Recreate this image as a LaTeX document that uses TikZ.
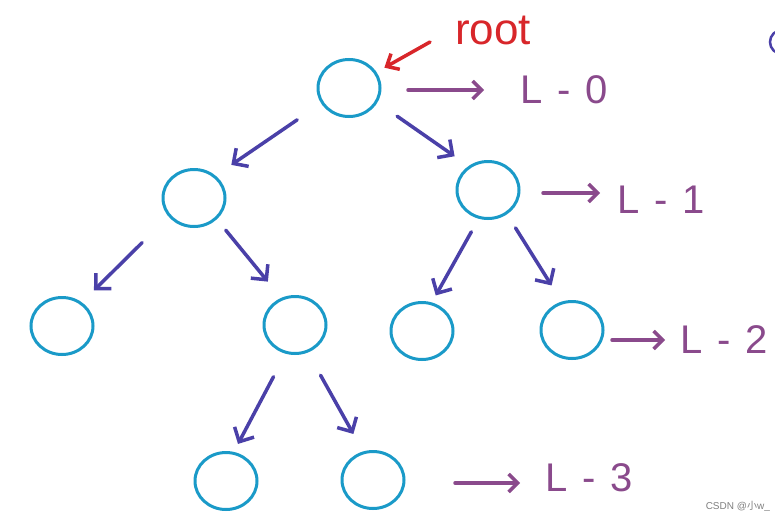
\documentclass[tikz,border=0pt]{standalone}
\usepackage{fontspec}
\setmainfont{Liberation Sans}
\newfontfamily\cjk{Noto Sans CJK SC}
\usetikzlibrary{arrows.meta,shapes.geometric}
\definecolor{circ}{HTML}{1A9AC8}
\definecolor{edgec}{HTML}{4A40A8}
\definecolor{lvl}{HTML}{8A4A8C}
\definecolor{rootc}{HTML}{D8262A}
\tikzset{
  tnode/.style={draw=circ, line width=3pt, ellipse, minimum width=62pt, minimum height=57pt, inner sep=0pt},
  tedge/.style={draw=edgec, line width=3.5pt, line cap=round, -{Straight Barb[length=11pt,width=22pt,line width=3.5pt]}},
  lvarrow/.style={draw=lvl, line width=3.5pt, line cap=round, -{Straight Barb[length=9pt,width=18pt,line width=3.5pt]}},
  lvtext/.style={text=lvl, font=\fontsize{40}{40}\selectfont, anchor=west, inner sep=0pt},
}
\newcommand{\lvsp}{\hspace{15pt}}
\begin{document}
\begin{tikzpicture}[x=1pt,y=-1pt]
\useasboundingbox[fill=white] (0,0) rectangle (775,522);
% tree nodes
\node[tnode] (r) at (349,88) {};
\node[tnode] (a) at (194,198) {};
\node[tnode] (b) at (488,190) {};
\node[tnode] (c) at (62,326) {};
\node[tnode] (d) at (295,325) {};
\node[tnode] (e) at (422,331) {};
\node[tnode] (f) at (572,330) {};
\node[tnode] (g) at (226,481) {};
\node[tnode] (h) at (373,480) {};
% edges
\draw[tedge, shorten <=29pt, shorten >=19pt] (r.209) -- (a.46);
\draw[tedge, shorten <=24pt, shorten >=17pt] (r.333) -- (b.129);
\draw[tedge, shorten <=37pt, shorten >=17pt] (a.216) -- (c.50);
\draw[tedge, shorten <=14pt, shorten >=21pt] (a.317) -- (d.117);
\draw[tedge, shorten <=15pt, shorten >=8pt] (b.252) -- (e.71);
\draw[tedge, shorten <=16pt, shorten >=19pt] (b.308) -- (f.110);
\draw[tedge, shorten <=26pt, shorten >=9pt] (d.252) -- (g.75);
\draw[tedge, shorten <=26pt, shorten >=20pt] (d.295) -- (h.109);
% root label
\node[text=rootc, font=\fontsize{44}{44}\selectfont, inner sep=0pt] (rl) at (493,30) {root};
\coordinate (rs) at (430,42);
\draw[draw=rootc, line width=3.5pt, line cap=round, -{Straight Barb[length=10pt,width=18pt,line width=3.5pt]}, shorten >=9pt] (rs) -- (r.30);
% level labels
\node[lvtext] (l0) at (520,90) {L\lvsp-\lvsp0};
\node[lvtext] (l1) at (617,200) {L\lvsp-\lvsp1};
\node[lvtext] (l2) at (680,340) {L\lvsp-\lvsp2};
\node[lvtext] (l3) at (545,478) {L\lvsp-\lvsp3};
\coordinate (s0) at (408,90);
\coordinate (s1) at (543,193);
\coordinate (s2) at (612,340);
\coordinate (s3) at (455,483);
\draw[lvarrow, shorten >=36pt] (s0) -- (l0.west |- s0);
\draw[lvarrow, shorten >=17pt] (s1) -- (l1.west |- s1);
\draw[lvarrow, shorten >=15pt] (s2) -- (l2.west |- s2);
\draw[lvarrow, shorten >=25pt] (s3) -- (l3.west |- s3);
% partial shape at right edge
\draw[draw=edgec, line width=2.5pt] (782,42) circle[radius=12pt];
% watermark
\node[text=gray, font=\fontsize{10}{10}\selectfont, anchor=east, inner sep=0pt] (wm) at (770,506) {CSDN @{\cjk 小}w\_};
\end{tikzpicture}
\end{document}
